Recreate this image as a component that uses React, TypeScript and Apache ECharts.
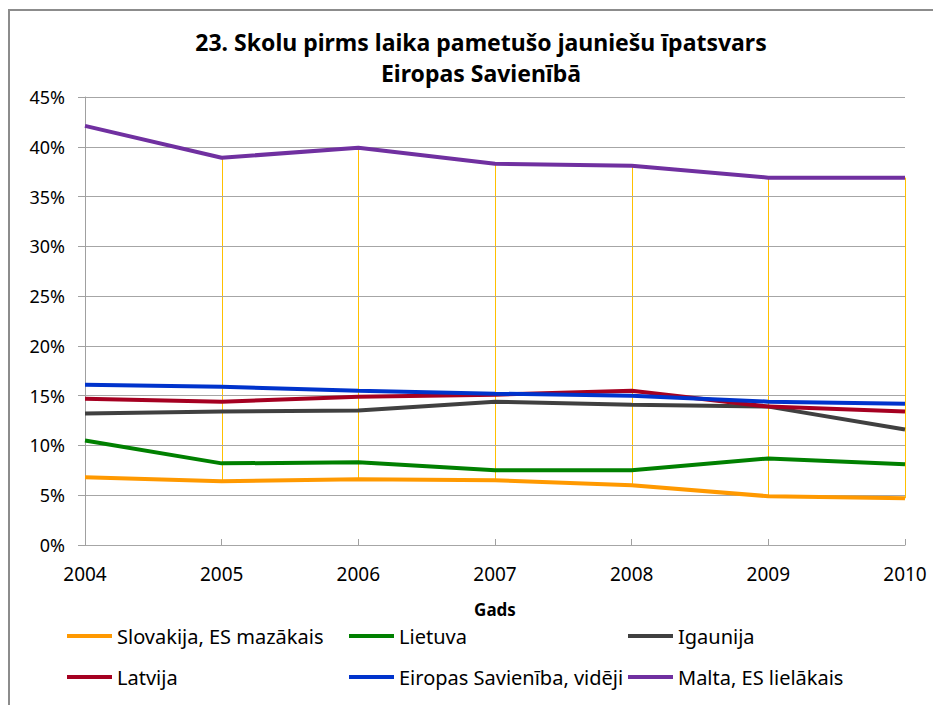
import React, { useEffect, useRef } from "react";
import * as echarts from "echarts";

const years = ["2004", "2005", "2006", "2007", "2008", "2009", "2010"];
const slovakia = [6.8, 6.4, 6.6, 6.5, 6.0, 4.9, 4.7];
const lithuania = [10.5, 8.2, 8.3, 7.5, 7.5, 8.7, 8.1];
const estonia = [13.2, 13.4, 13.5, 14.4, 14.1, 13.9, 11.6];
const latvia = [14.7, 14.4, 14.9, 15.1, 15.5, 13.9, 13.4];
const euAverage = [16.1, 15.9, 15.5, 15.2, 15.0, 14.4, 14.2];
const malta = [42.1, 38.9, 39.9, 38.3, 38.1, 36.9, 36.9];

const seriesNames = [
  "Slovakija, ES mazākais",
  "Lietuva",
  "Igaunija",
  "Latvija",
  "Eiropas Savienība, vidēji",
  "Malta, ES lielākais",
];
const seriesData = [slovakia, lithuania, estonia, latvia, euAverage, malta];
const seriesColors = ["#FF9900", "#008000", "#404040", "#A50021", "#0033CC", "#7030A0"];

const FONT = "'Noto Sans', sans-serif";

export default function App() {
  const ref = useRef<HTMLDivElement>(null);
  useEffect(() => {
    if (!ref.current) return;
    const chart = echarts.init(ref.current, undefined, { renderer: "svg" });

    const hiLo = years.map((_, i) => {
      const vals = seriesData.map((s) => s[i]);
      return [i, Math.min(...vals), Math.max(...vals)];
    });

    const legendPos = [
      { left: 59, top: 618 },
      { left: 341, top: 618 },
      { left: 620, top: 618 },
      { left: 59, top: 659 },
      { left: 341, top: 659 },
      { left: 620, top: 659 },
    ];

    chart.setOption({
      animation: false,
      backgroundColor: "#ffffff",
      textStyle: { fontFamily: FONT },
      graphic: [
        {
          type: "rect",
          shape: { x: 1, y: 2, width: 1200, height: 1200 },
          style: { fill: "none", stroke: "#8c8c8c", lineWidth: 2 },
          silent: true,
        },
        {
          type: "text",
          x: 473,
          y: 34,
          style: {
            text: "23. Skolu pirms laika pametušo jauniešu īpatsvars",
            font: `bold 23px ${FONT}`,
            fill: "#000",
            align: "center",
            verticalAlign: "middle",
          },
        },
        {
          type: "text",
          x: 473,
          y: 65,
          style: {
            text: "Eiropas Savienībā",
            font: `bold 23px ${FONT}`,
            fill: "#000",
            align: "center",
            verticalAlign: "middle",
          },
        },
      ],
      legend: seriesNames.map((name, i) => ({
        data: [name],
        left: legendPos[i].left,
        top: legendPos[i].top,
        orient: "horizontal",
        icon: "rect",
        itemWidth: 45,
        itemHeight: 4,
        padding: 0,
        selectedMode: false,
        textStyle: { fontFamily: FONT, fontSize: 20, color: "#000" },
      })),
      grid: { left: 77, right: 36, top: 89, bottom: 160, containLabel: false },
      xAxis: {
        type: "category",
        data: years,
        boundaryGap: false,
        name: "Gads",
        nameLocation: "middle",
        nameGap: 56,
        nameTextStyle: { fontFamily: FONT, fontSize: 17, fontWeight: "bold", color: "#000" },
        axisLine: { lineStyle: { color: "#A0A0A0", width: 1 } },
        axisTick: { inside: true, length: 6, lineStyle: { color: "#A0A0A0" } },
        axisLabel: { fontFamily: FONT, fontSize: 19, color: "#000", margin: 19 },
        splitLine: { show: false },
      },
      yAxis: {
        type: "value",
        min: 0,
        max: 45,
        interval: 5,
        z: 3,
        axisLine: { show: true, lineStyle: { color: "#A0A0A0", width: 1 } },
        axisTick: { show: true, length: 7, lineStyle: { color: "#A0A0A0" } },
        axisLabel: {
          fontFamily: FONT,
          fontSize: 18,
          color: "#000",
          margin: 20,
          formatter: (v: number) => `${v}%`,
        },
        splitLine: { lineStyle: { color: "#A6A6A6", width: 1 } },
      },
      series: [
        {
          type: "custom",
          name: "hilo",
          z: 1,
          silent: true,
          encode: { x: 0, y: [1, 2] },
          data: hiLo,
          renderItem: (params: any, api: any) => {
            const p1 = api.coord([api.value(0), api.value(1)]);
            const p2 = api.coord([api.value(0), api.value(2)]);
            const x = Math.round(p1[0]) + 0.5;
            return {
              type: "line",
              shape: { x1: x, y1: p1[1], x2: x, y2: p2[1] },
              style: { stroke: "#FFC000", lineWidth: 1 },
            };
          },
        },
        ...seriesNames.map((name, i) => ({
          type: "line",
          name,
          data: seriesData[i],
          z: 4,
          symbol: "none",
          lineStyle: { color: seriesColors[i], width: 4 },
          itemStyle: { color: seriesColors[i] },
          color: seriesColors[i],
        })),
      ],
    });
    return () => chart.dispose();
  }, []);
  return <div ref={ref} style={{ width: 933, height: 697 }} />;
}
